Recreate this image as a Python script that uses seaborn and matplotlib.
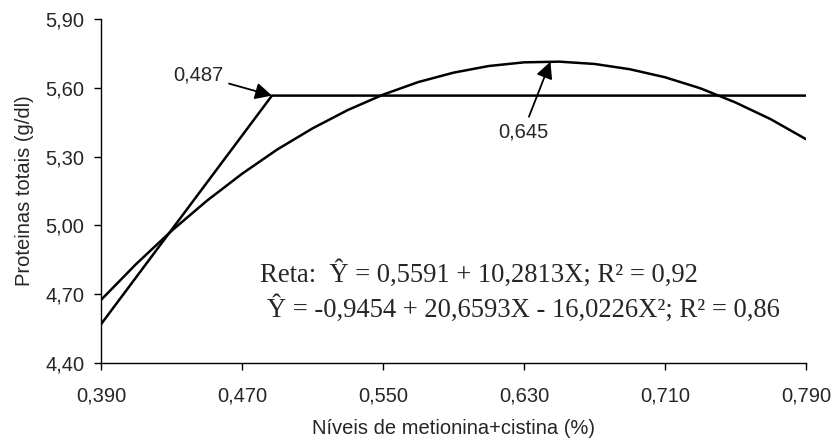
import matplotlib
matplotlib.use("Agg")
import matplotlib.pyplot as plt
import seaborn as sns
import pandas as pd

# Data
plateau_x = [0.390, 0.487, 0.790]
plateau_y = [4.569, 5.566, 5.566]

quad_x = [0.39, 0.41, 0.43, 0.45, 0.47, 0.49, 0.51, 0.53, 0.55, 0.57, 0.59,
          0.61, 0.63, 0.65, 0.67, 0.69, 0.71, 0.73, 0.75, 0.77, 0.79]
quad_y = [4.675, 4.832, 4.976, 5.107, 5.225, 5.331, 5.423, 5.503, 5.570, 5.625, 5.666,
          5.695, 5.711, 5.714, 5.704, 5.681, 5.646, 5.598, 5.536, 5.463, 5.376]

x_ticks = [0.390, 0.470, 0.550, 0.630, 0.710, 0.790]
y_ticks = [4.40, 4.70, 5.00, 5.30, 5.60, 5.90]

break_x, break_y, break_label = 0.487, 5.566, "0,487"
max_x, max_y, max_label = 0.645, 5.714, "0,645"

eq1 = "Reta:  \u0176 = 0,5591 + 10,2813X; R\u00b2 = 0,92"
eq2 = "\u0176 = -0,9454 + 20,6593X - 16,0226X\u00b2; R\u00b2 = 0,86"

sns.set_style("ticks")
plt.rcParams['font.family'] = ['Liberation Sans', 'DejaVu Sans']

FS = 14.5

fig = plt.figure(figsize=(8.38, 4.46), dpi=100)
ax = fig.add_axes([101/838, 1 - 363/446, (806 - 101)/838, (363 - 19)/446])

df_p = pd.DataFrame({"x": plateau_x, "y": plateau_y})
df_q = pd.DataFrame({"x": quad_x, "y": quad_y})
sns.lineplot(data=df_p, x="x", y="y", ax=ax, color="black", lw=1.8, sort=False)
sns.lineplot(data=df_q, x="x", y="y", ax=ax, color="black", lw=1.8, sort=False)

ax.set_xlim(x_ticks[0], x_ticks[-1])
ax.set_ylim(y_ticks[0], y_ticks[-1])
ax.set_xticks(x_ticks)
ax.set_yticks(y_ticks)
ax.set_xticklabels([f"{v:.3f}".replace(".", ",") for v in x_ticks], fontsize=FS)
ax.set_yticklabels([f"{v:.2f}".replace(".", ",") for v in y_ticks], fontsize=FS)
ax.tick_params(direction="out", length=5, width=1, color="black")
ax.tick_params(axis="x", pad=12)
ax.tick_params(axis="y", pad=7)
for s in ["top", "right"]:
    ax.spines[s].set_visible(False)
for s in ["left", "bottom"]:
    ax.spines[s].set_color("black")
    ax.spines[s].set_linewidth(1)

ax.set_xlabel("Níveis de metionina+cistina (%)", fontsize=FS, labelpad=10)
ax.set_ylabel("Proteinas totais (g/dl)", fontsize=FS, labelpad=8)

arrow = dict(arrowstyle="-|>", color="black", lw=1.3, mutation_scale=25,
             shrinkA=2, shrinkB=0)
ax.annotate(break_label, xy=(break_x, break_y), xytext=(0.445, 5.656),
            fontsize=FS, ha="center", va="center", arrowprops=arrow)
ax.annotate(max_label, xy=(max_x, max_y), xytext=(0.6294, 5.407),
            fontsize=FS, ha="center", va="center", arrowprops=arrow)

fig.text(260/838, 1 - 282/446, eq1, fontsize=19.2, family="Liberation Serif",
         ha="left", va="baseline")
fig.text(267/838, 1 - 317/446, eq2, fontsize=19.2, family="Liberation Serif",
         ha="left", va="baseline")

fig.savefig("out.png", dpi=100)
